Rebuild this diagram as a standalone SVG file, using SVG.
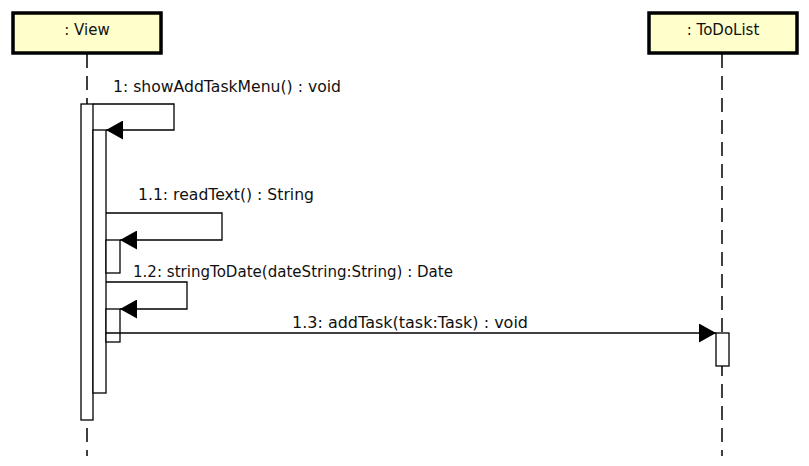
<svg xmlns="http://www.w3.org/2000/svg" width="809" height="466" viewBox="0 0 809 466">
<style>
.hdr{fill:#ffffcc;stroke:#000;stroke-width:3.5}
.life{stroke:#000;stroke-width:1.5;stroke-dasharray:14,8;fill:none}
.act{fill:#fff;stroke:#000;stroke-width:1.3}
.msg{fill:none;stroke:#000;stroke-width:1.3}
text{font-family:"DejaVu Sans","Liberation Sans",sans-serif;font-size:15px;fill:#111}
</style>
<defs>
<marker id="arr" markerWidth="17" markerHeight="19" refX="17" refY="9.5" orient="auto" markerUnits="userSpaceOnUse">
<path d="M0,0 L17,9.5 L0,19 Z" fill="#000"/>
</marker>
</defs>
<rect width="809" height="466" fill="#fff"/>
<g id="view">
<rect class="hdr" x="13" y="13" width="148" height="40"/>
<text x="87" y="35" text-anchor="middle">: View</text>
<line class="life" x1="87" y1="54" x2="87" y2="456"/>
</g>
<g id="todolist">
<rect class="hdr" x="649" y="13" width="148" height="40"/>
<text x="723" y="35" text-anchor="middle">: ToDoList</text>
<line class="life" x1="722" y1="54" x2="722" y2="456"/>
</g>
<g id="activations">
<rect class="act" x="81" y="104" width="12" height="316"/>
<rect class="act" x="93" y="130" width="13" height="263"/>
<rect class="act" x="106" y="240" width="14" height="33"/>
<rect class="act" x="106" y="309" width="14" height="33"/>
<rect class="act" x="716" y="333" width="13" height="33"/>
</g>
<g id="connectors">
<path class="msg" d="M93,104 H174 V130 H106" marker-end="url(#arr)"/>
<path class="msg" d="M106,213 H222 V240 H120" marker-end="url(#arr)"/>
<path class="msg" d="M106,282 H187 V309 H120" marker-end="url(#arr)"/>
<path class="msg" d="M106,333 H716" marker-end="url(#arr)"/>
</g>
<g id="labels">
<text x="113" y="92" textLength="228" lengthAdjust="spacingAndGlyphs">1: showAddTaskMenu() : void</text>
<text x="138" y="200" textLength="176" lengthAdjust="spacingAndGlyphs">1.1: readText() : String</text>
<text x="133" y="277" textLength="320" lengthAdjust="spacingAndGlyphs">1.2: stringToDate(dateString:String) : Date</text>
<text x="292" y="328" textLength="236" lengthAdjust="spacingAndGlyphs">1.3: addTask(task:Task) : void</text>
</g>
</svg>
